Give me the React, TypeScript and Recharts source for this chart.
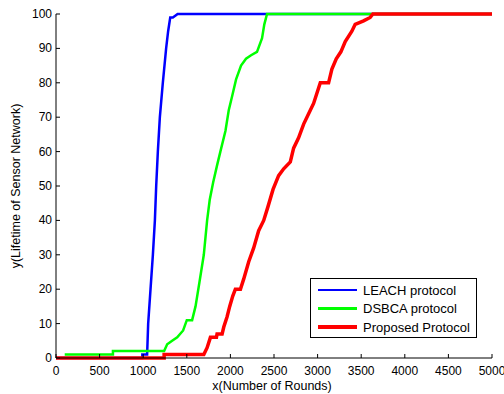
import { Legend, Line, LineChart, XAxis, YAxis } from "recharts";

// rounds (x) and alive percent (y)
const leachRounds = [0, 990, 990, 1045, 1057, 1084, 1111, 1134, 1149, 1168, 1191, 1225, 1263, 1286, 1310, 1340, 1395, 5000];
const leachValues = [0, 0, 1, 1, 10, 20, 30, 40, 50, 60, 70, 80, 90, 95, 99, 99, 100, 100];

const dsbcaRounds = [100, 653, 653, 1240, 1275, 1332, 1390, 1458, 1500, 1561, 1600, 1645, 1695, 1733, 1763, 1802, 1847, 1885, 1943, 1981, 2019, 2065, 2122, 2179, 2237, 2305, 2363, 2389, 2420, 5000];
const dsbcaValues = [1, 1, 2, 2, 4, 5, 6, 8, 11, 11, 15, 22, 30, 40, 46, 51, 56, 60, 66, 72, 76, 81, 85, 87, 88, 89, 93, 97, 100, 100];

const proposedRounds = [0, 1240, 1240, 1695, 1733, 1771, 1840, 1847, 1905, 1924, 1962, 1992, 2027, 2057, 2115, 2153, 2210, 2267, 2324, 2382, 2431, 2489, 2553, 2611, 2687, 2725, 2782, 2840, 2897, 2954, 3031, 3126, 3164, 3214, 3267, 3317, 3393, 3431, 3527, 3603, 3634, 5000];
const proposedValues = [0, 0, 1, 1, 3, 6, 6, 7, 7, 9, 12, 15, 18, 20, 20, 23, 28, 32, 37, 40, 44, 49, 53, 55, 57, 61, 64, 68, 71, 74, 80, 80, 84, 87, 89, 92, 95, 97, 98, 99, 100, 100];

const xTicks = [0, 500, 1000, 1500, 2000, 2500, 3000, 3500, 4000, 4500, 5000];
const yTicks = [0, 10, 20, 30, 40, 50, 60, 70, 80, 90, 100];

const seriesNames = ["LEACH protocol", "DSBCA protocol", "Proposed Protocol"];
const seriesColors = ["#0000ff", "#00ff00", "#ff0000"];
const seriesWidths = [2.5, 2.5, 3.5];

const toPoints = (xs: number[], ys: number[]) => xs.map((x, i) => ({ x, y: ys[i] }));

// plot box in pixels (MATLAB-like axes)
const W = 504;
const H = 394;
const LEFT = 56;
const RIGHT = 492;
const TOP = 14;
const BOTTOM = 358;
const TICK = 4;
const FONT = "'Liberation Sans', Arial, sans-serif";

const BottomTick = (props: any) => {
  const { x, payload } = props;
  return (
    <g>
      <line x1={x} y1={BOTTOM} x2={x} y2={BOTTOM - TICK} stroke="#000" />
      <text x={x} y={371} textAnchor="middle" dominantBaseline="central" fontSize={12} fontFamily={FONT} fill="#000">
        {payload.value}
      </text>
    </g>
  );
};

const TopTick = (props: any) => (
  <line x1={props.x} y1={TOP} x2={props.x} y2={TOP + TICK} stroke="#000" />
);

const LeftTick = (props: any) => {
  const { y, payload } = props;
  return (
    <g>
      <line x1={LEFT} y1={y} x2={LEFT + TICK} y2={y} stroke="#000" />
      <text x={52} y={y} textAnchor="end" dominantBaseline="central" fontSize={12} fontFamily={FONT} fill="#000">
        {payload.value}
      </text>
    </g>
  );
};

const RightTick = (props: any) => (
  <line x1={RIGHT} y1={props.y} x2={RIGHT - TICK} y2={props.y} stroke="#000" />
);

const LegendBox = () => (
  <div
    style={{
      position: "relative",
      width: 167,
      height: 60,
      boxSizing: "border-box",
      border: "1px solid #000",
      background: "#fff",
      fontFamily: FONT,
      fontSize: 13,
      color: "#000",
    }}
  >
    {seriesNames.map((name, i) => (
      <div key={name} style={{ position: "absolute", left: 7, top: 3 + i * 18.5, height: 16, display: "flex", alignItems: "center" }}>
        <div style={{ width: 39, height: seriesWidths[i], background: seriesColors[i], marginRight: 6 }} />
        <span style={{ whiteSpace: "nowrap" }}>{name}</span>
      </div>
    ))}
  </div>
);

export default function App() {
  return (
    <div style={{ position: "absolute", left: 0, top: 0, width: W, height: H, background: "#fff" }}>
      <LineChart width={W} height={H} margin={{ top: TOP, right: W - RIGHT, bottom: 0, left: 0 }}>
        <XAxis
          xAxisId={0}
          dataKey="x"
          type="number"
          domain={[0, 5000]}
          ticks={xTicks}
          height={H - BOTTOM}
          tickLine={false}
          axisLine={{ stroke: "#000" }}
          tick={BottomTick}
          interval={0}
          label={{
            content: () => (
              <text x={(LEFT + RIGHT) / 2 - 2} y={386} textAnchor="middle" dominantBaseline="central" fontSize={12.5} fontFamily={FONT} fill="#000">
                x(Number of Rounds)
              </text>
            ),
          }}
        />
        <XAxis
          xAxisId="top"
          orientation="top"
          type="number"
          domain={[0, 5000]}
          ticks={xTicks}
          height={0}
          tickLine={false}
          axisLine={{ stroke: "#000" }}
          tick={TopTick}
          interval={0}
        />
        <YAxis
          yAxisId={0}
          type="number"
          domain={[0, 100]}
          ticks={yTicks}
          width={LEFT}
          tickLine={false}
          axisLine={{ stroke: "#000" }}
          tick={LeftTick}
          interval={0}
          label={{
            content: () => (
              <text
                x={16}
                y={(TOP + BOTTOM) / 2}
                transform={`rotate(-90 16 ${(TOP + BOTTOM) / 2})`}
                textAnchor="middle"
                dominantBaseline="central"
                fontSize={12.5}
                fontFamily={FONT}
                fill="#000"
              >
                y(Lifetime of Sensor Network)
              </text>
            ),
          }}
        />
        <YAxis
          yAxisId="right"
          orientation="right"
          type="number"
          domain={[0, 100]}
          ticks={yTicks}
          width={0}
          tickLine={false}
          axisLine={{ stroke: "#000" }}
          tick={RightTick}
          interval={0}
        />
        <Line
          data={toPoints(leachRounds, leachValues)}
          dataKey="y"
          name={seriesNames[0]}
          stroke={seriesColors[0]}
          strokeWidth={seriesWidths[0]}
          dot={false}
          activeDot={false}
          isAnimationActive={false}
        />
        <Line
          data={toPoints(dsbcaRounds, dsbcaValues)}
          dataKey="y"
          name={seriesNames[1]}
          stroke={seriesColors[1]}
          strokeWidth={seriesWidths[1]}
          dot={false}
          activeDot={false}
          isAnimationActive={false}
        />
        <Line
          data={toPoints(proposedRounds, proposedValues)}
          dataKey="y"
          name={seriesNames[2]}
          stroke={seriesColors[2]}
          strokeWidth={seriesWidths[2]}
          dot={false}
          activeDot={false}
          isAnimationActive={false}
        />
        <Legend
          layout="vertical"
          align="center"
          verticalAlign="middle"
          content={() => <LegendBox />}
          wrapperStyle={{ left: 310, top: 278, width: 167, height: 60, right: "auto", bottom: "auto" }}
        />
      </LineChart>
    </div>
  );
}
